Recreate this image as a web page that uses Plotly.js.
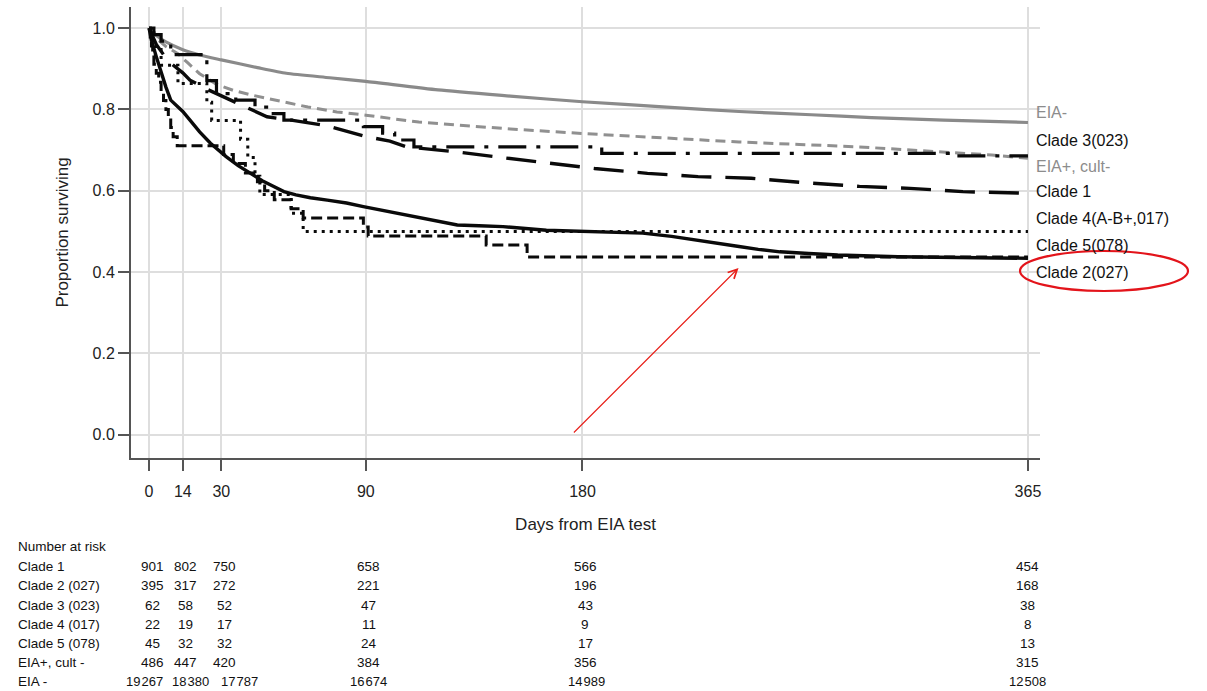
<!DOCTYPE html>
<html>
<head>
<meta charset="utf-8">
<script src="https://cdn.plot.ly/plotly-3.0.1.min.js"></script>
<style>
  html, body { margin: 0; padding: 0; background: #ffffff; }
  #chart { width: 1207px; height: 691px; }
</style>
</head>
<body>
<div id="chart"></div>
<script>
// ---------- Survival curves (days, proportion surviving) ----------
const eiaNegDays = [0,1,3,7,14,21,30,45,57,75,90,120,150,180,215,245,275,300,330,365];
const eiaNegS    = [1,0.992,0.982,0.966,0.947,0.934,0.922,0.903,0.889,0.878,0.869,0.848,0.833,0.819,0.806,0.795,0.787,0.78,0.774,0.768];

const eiaPosDays = [0,3,7,12,16,21,28,35,43,55,66,78,90,112,121,150,180,210,245,270,295,328,350,365];
const eiaPosS    = [1,0.975,0.955,0.937,0.915,0.888,0.862,0.847,0.835,0.819,0.806,0.794,0.786,0.769,0.765,0.752,0.741,0.731,0.72,0.714,0.708,0.696,0.688,0.68];

const clade1Days = [0,3,6,9,14,17,24,31,40,49,59,74,89,100,107,120,129,146,165,185,207,228,250,272,295,316,338,365];
const clade1S    = [1,0.96,0.935,0.914,0.89,0.872,0.85,0.831,0.806,0.782,0.774,0.76,0.735,0.722,0.708,0.70,0.695,0.682,0.668,0.655,0.643,0.635,0.631,0.62,0.611,0.606,0.598,0.594];

const clade2Days = [0,1,3,5,7,9,12,14,17,21,25.5,32,37,42,47,52,56,61,67,74,82,89,96,103,110,117,128,137,147,165,179,192,205,217,228,237,245,253,262,274,286,311,340,365];
const clade2S    = [1,0.97,0.93,0.89,0.855,0.823,0.805,0.795,0.774,0.745,0.717,0.684,0.662,0.643,0.625,0.61,0.598,0.59,0.583,0.577,0.57,0.561,0.553,0.545,0.537,0.528,0.516,0.514,0.512,0.503,0.50,0.498,0.496,0.488,0.479,0.471,0.463,0.456,0.45,0.446,0.442,0.438,0.436,0.434];

const clade3Days = [0,2,5,9,24,28,36,44,50,56,89,97,102,110,188,335,365];
const clade3S    = [1,0.984,0.968,0.935,0.871,0.839,0.823,0.806,0.79,0.774,0.758,0.742,0.725,0.708,0.692,0.686,0.686];

const clade4Days = [0,2,5,12,24,26,38,41,44,46,59,64,365];
const clade4S    = [1,0.955,0.909,0.864,0.818,0.773,0.727,0.682,0.636,0.591,0.545,0.5,0.5];

const clade5Days = [0,0.5,1,1.5,2,3,4,5,6,7,8,9,10,11.7,31,35,40,45,48,52,59,64,89,91,140,157,365];
const clade5S    = [1,0.978,0.956,0.933,0.911,0.889,0.867,0.844,0.822,0.8,0.778,0.756,0.733,0.711,0.689,0.667,0.644,0.622,0.6,0.578,0.556,0.533,0.511,0.489,0.467,0.437,0.437];

// ---------- Curve labels at the right ----------
const curveLabels = ["EIA-","Clade 3(023)","EIA+, cult-","Clade 1","Clade 4(A-B+,017)","Clade 5(078)","Clade 2(027)"];
const curveLabelColors = ["#8c8c8c","#111111","#8c8c8c","#111111","#111111","#111111","#111111"];
const curveLabelPix = [113,140,166,191,218,245,272]; // vertical pixel placement of labels

// ---------- Number at risk table ----------
const riskDays = [0,14,30,90,180,365];
const riskRowNames = ["Clade 1","Clade 2 (027)","Clade 3 (023)","Clade 4 (017)","Clade 5 (078)","EIA+, cult -","EIA -"];
const riskClade1 = [901,802,750,658,566,454];
const riskClade2 = [395,317,272,221,196,168];
const riskClade3 = [62,58,52,47,43,38];
const riskClade4 = [22,19,17,11,9,8];
const riskClade5 = [45,32,32,24,17,13];
const riskEIApos = [486,447,420,384,356,315];
const riskEIAneg = [19267,18380,17787,16674,14989,12508];
const riskRows = [riskClade1,riskClade2,riskClade3,riskClade4,riskClade5,riskEIApos,riskEIAneg];

// ---------- Layout geometry (pixels) ----------
const W = 1207, H = 691;
const plotL = 131, plotR = 1040, plotT = 7, plotB = 458;
const pw = plotR - plotL, ph = plotB - plotT;
const pxToPaperX = px => (px - plotL) / pw;
const pyToPaperY = py => (plotB - py) / ph;
const yRange = [-0.057, 1.052];
const pyToDataY = py => yRange[1] - (py - plotT) / ph * (yRange[1] - yRange[0]);
const normalShift = [3, 3, 3, 3, 3, 0];
const bigRowShift = [-5, 8, 18, 3, 4, 0];

function fmtRisk(v) {
  if (v >= 10000) {
    const s = String(v);
    return s.slice(0, s.length - 3) + "\u200A" + s.slice(s.length - 3);
  }
  return String(v);
}

const gray = "#8a8a8a";
const black = "#0a0a0a";
const traces = [
  {x: eiaNegDays, y: eiaNegS, mode: "lines", line: {color: gray, width: 3.2, shape: "spline", smoothing: 0.6}},
  {x: eiaPosDays, y: eiaPosS, mode: "lines", line: {color: "#909090", width: 3, dash: "10px,6px"}},
  {x: clade3Days, y: clade3S, mode: "lines", line: {color: black, width: 3.2, shape: "hv", dash: "28px,10px,4px,10px"}},
  {x: clade1Days, y: clade1S, mode: "lines", line: {color: black, width: 3.4, dash: "30px,14px"}},
  {x: clade4Days, y: clade4S, mode: "lines", line: {color: black, width: 3, shape: "hv", dash: "3px,5px"}},
  {x: clade5Days, y: clade5S, mode: "lines", line: {color: black, width: 3, shape: "hv", dash: "11px,5px"}},
  {x: clade2Days, y: clade2S, mode: "lines", line: {color: black, width: 3.4}}
].map(t => Object.assign(t, {hoverinfo: "skip", showlegend: false}));

const annotations = [];
const tfont = {family: "Liberation Sans, Arial, sans-serif", size: 16, color: "#222"};

curveLabels.forEach((lab, i) => {
  annotations.push({
    xref: "paper", yref: "paper", x: pxToPaperX(1034), y: pyToPaperY(curveLabelPix[i]),
    xanchor: "left", yanchor: "middle", showarrow: false, text: lab,
    font: {family: "Liberation Sans, Arial, sans-serif", size: 16, color: curveLabelColors[i]}
  });
});

// Number at risk table
const tabFont = {family: "Liberation Sans, Arial, sans-serif", size: 13.5, color: "#111"};
const narrowFont = {family: "Liberation Sans Narrow, Liberation Sans, Arial, sans-serif", size: 13, color: "#111"};
annotations.push({
  xref: "paper", yref: "paper", x: pxToPaperX(16), y: pyToPaperY(546),
  xanchor: "left", yanchor: "middle", showarrow: false, text: "Number at risk", font: tabFont
});
const rowPix = [566,585,605,624,643,662,681];
riskRowNames.forEach((name, r) => {
  annotations.push({
    xref: "paper", yref: "paper", x: pxToPaperX(16), y: pyToPaperY(rowPix[r]),
    xanchor: "left", yanchor: "middle", showarrow: false, text: name, font: tabFont
  });
  const big = riskRows[r].some(v => v >= 10000);
  riskRows[r].forEach((v, c) => {
    annotations.push({
      xref: "x", yref: "paper", x: riskDays[c], y: pyToPaperY(rowPix[r]),
      xshift: big ? bigRowShift[c] : normalShift[c],
      xanchor: "center", yanchor: "middle", showarrow: false, text: fmtRisk(v),
      font: big ? narrowFont : tabFont
    });
  });
});

// Red arrow
annotations.push({
  xref: "x", yref: "y", axref: "x", ayref: "y",
  x: 244.8, y: pyToDataY(268), ax: 175.8, ay: pyToDataY(434),
  showarrow: true, arrowhead: 5, arrowsize: 1.6, arrowwidth: 1.1, arrowcolor: "#e8201a", text: ""
});

const shapes = [
  {type: "circle", xref: "paper", yref: "paper",
   x0: pxToPaperX(1020), x1: pxToPaperX(1188), y0: pyToPaperY(291), y1: pyToPaperY(251),
   line: {color: "#e3141b", width: 2.2}, fillcolor: "rgba(0,0,0,0)"}
];

const layout = {
  width: W, height: H,
  margin: {l: plotL, r: W - plotR, t: plotT, b: H - plotB, pad: 0},
  paper_bgcolor: "#ffffff", plot_bgcolor: "#ffffff",
  showlegend: false,
  xaxis: {
    range: [-7.5, 370], tickvals: riskDays, ticktext: riskDays.map(String),
    showgrid: true, gridcolor: "#dedede", gridwidth: 2, zeroline: false,
    showline: true, linecolor: "#555", linewidth: 2,
    ticks: "outside", ticklen: 11, tickwidth: 2, tickcolor: "#555",
    ticklabelstandoff: 7,
    tickfont: tfont, fixedrange: true,
    title: {text: "Days from EIA test", font: {family: "Liberation Sans, Arial, sans-serif", size: 17, color: "#222"}, standoff: 19}
  },
  yaxis: {
    range: yRange, tickvals: [0,0.2,0.4,0.6,0.8,1.0], tickformat: ".1f",
    showgrid: true, gridcolor: "#dedede", gridwidth: 2, zeroline: false,
    showline: true, linecolor: "#555", linewidth: 2,
    ticks: "outside", ticklen: 11, tickwidth: 2, tickcolor: "#555",
    tickfont: tfont, fixedrange: true,
    title: {text: "Proportion surviving", font: {family: "Liberation Sans, Arial, sans-serif", size: 17, color: "#222"}, standoff: 20}
  },
  annotations: annotations,
  shapes: shapes
};

Plotly.newPlot("chart", traces, layout, {staticPlot: true, displayModeBar: false});
</script>
</body>
</html>
